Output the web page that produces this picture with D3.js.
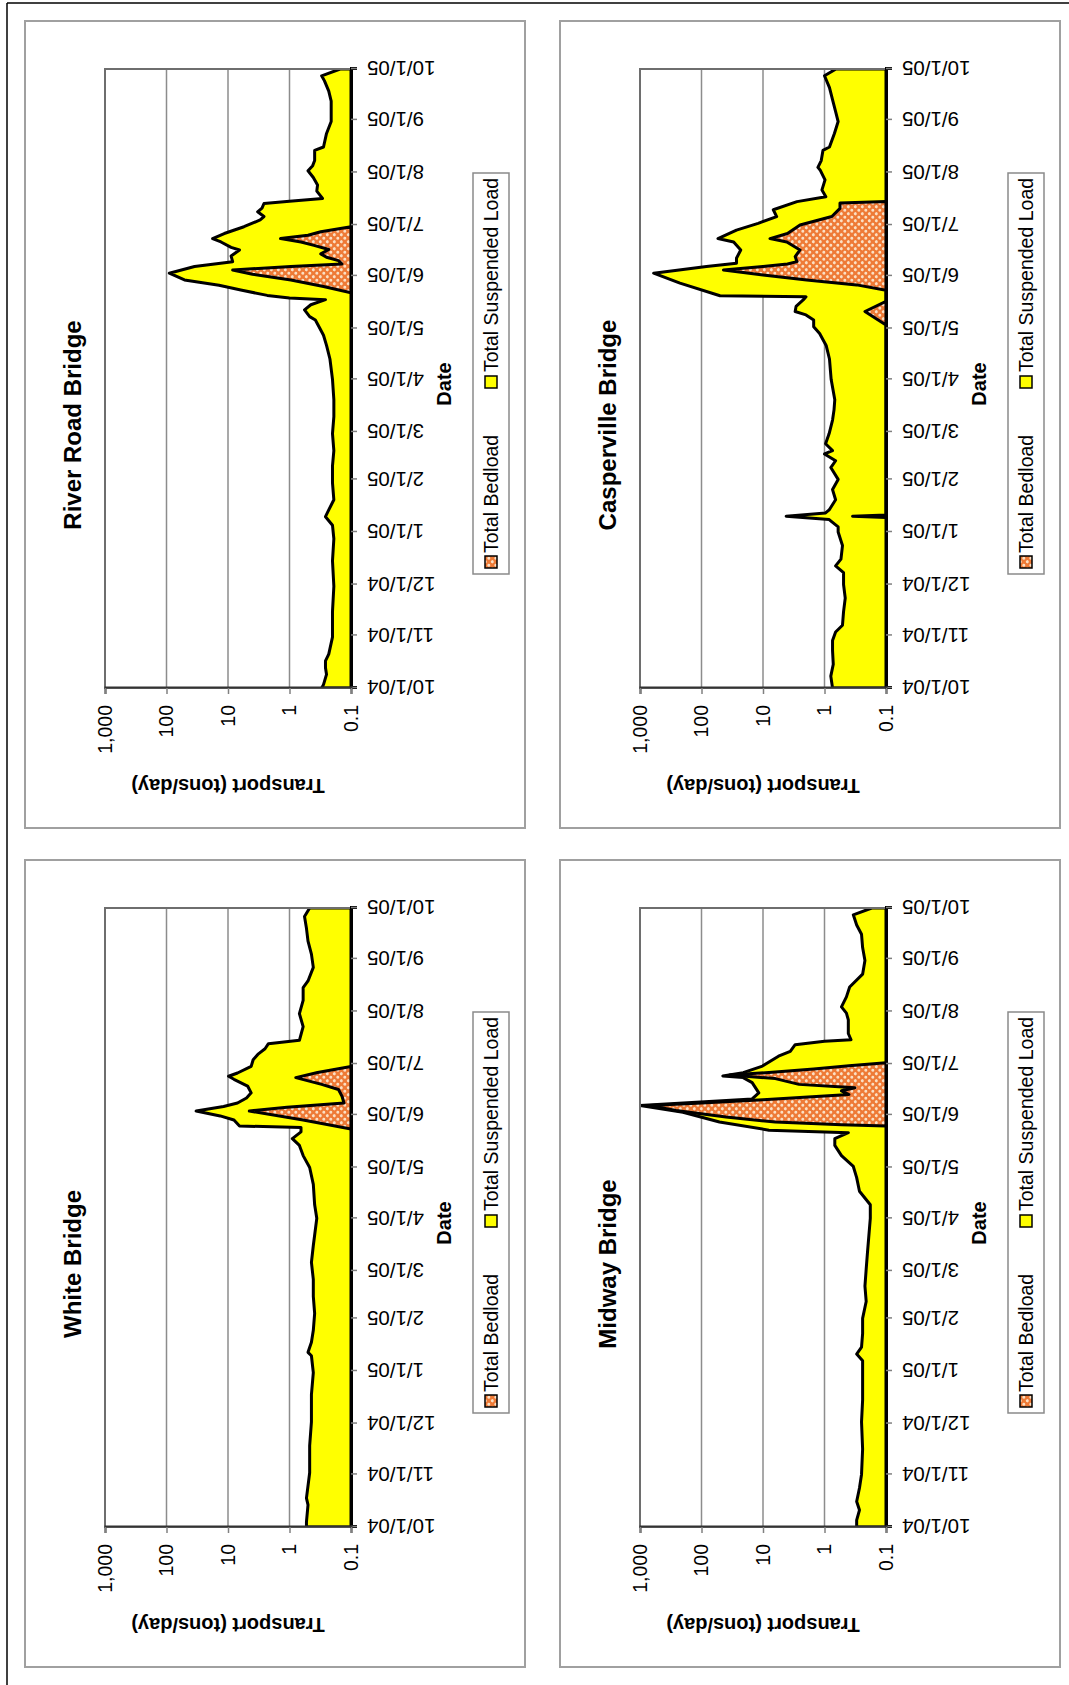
<!DOCTYPE html>
<html>
<head>
<meta charset="utf-8">
<script src="https://cdn.jsdelivr.net/npm/d3@7"></script>
<style>
  body { margin: 0; background: #fff; }
  svg { display: block; font-family: "Liberation Sans", Arial, sans-serif; }
</style>
</head>
<body>
<div class="chart"></div>
<script>
const width = 1069;
const height = 1685;

// time axis runs from 10/1/04 to 10/1/05, values are [days after 10/1/04, tons/day]
const startDate = new Date(2004, 9, 1);
const endDate = new Date(2005, 9, 1);
const yTicks = [0.1, 1, 10, 100, 1000];
const seriesNames = ["Total Bedload", "Total Suspended Load"];
const bridgeNames = ["River Road Bridge", "Casperville Bridge", "White Bridge", "Midway Bridge"];

const riverRoadSuspended = [
  [0,0.30],[2,0.28],[8,0.25],[12,0.26],[16,0.26],[20,0.23],[30,0.20],[45,0.20],[60,0.19],[75,0.20],
  [88,0.19],[96,0.20],[101,0.26],[105,0.23],[111,0.19],[121,0.20],[131,0.20],[140,0.19],[150,0.20],
  [160,0.19],[170,0.19],[182,0.20],[194,0.22],[202,0.25],[208,0.28],[212,0.32],[217,0.38],[219,0.47],
  [223,0.57],[226,0.45],[229,0.26],[230,1.0],[231.5,2.3],[234.7,6.2],[237.5,14],[240.6,51],[244.6,90],
  [248.5,35],[251.4,8.4],[254.7,8.9],[258.3,6.5],[259.8,8.9],[263,13],[265,17.8],[268,11.5],[272,5.5],
  [276,3.0],[278,2.6],[280.8,3.3],[283,2.8],[285.7,2.6],[287,1.0],[288.7,0.29],[293,0.36],[296.6,0.35],
  [301,0.41],[305,0.5],[308,0.42],[311,0.39],[317,0.39],[319,0.28],[327,0.25],[334,0.21],[340,0.21],
  [346,0.21],[352,0.23],[358,0.27],[361,0.30],[365,0.15]
];
const riverRoadBedload = [
  [233,0.1],[236.7,0.28],[240.6,0.95],[244,4],[246.5,8.4],[248.6,0.95],[250,0.14],[252,0.16],
  [254,0.25],[256,0.31],[258.6,0.23],[261,0.4],[263,0.65],[265,1.4],[267,0.5],[269,0.31],[272,0.1]
];

const caspervilleSuspended = [
  [0,0.74],[7,0.79],[14,0.72],[22,0.74],[28,0.74],[33,0.66],[37,0.51],[45,0.49],[53,0.46],[61,0.49],
  [68,0.49],[72,0.66],[76,0.54],[84,0.51],[92,0.6],[95,0.6],[99.3,0.84],[101.3,4.2],[103.2,0.96],
  [105,0.84],[111,0.66],[117,0.74],[123,0.6],[130,0.79],[134,0.66],[138,1.0],[140,0.74],[144,0.96],
  [150,0.84],[158,0.74],[164,0.7],[170,0.68],[182,0.78],[194,0.83],[202,0.94],[209,1.2],[213,1.5],
  [217,1.5],[220,2.0],[222,3.0],[225,2.9],[229,2.2],[230.7,2.0],[231.3,50],[238.7,224],[244.6,600],
  [248.5,83],[250.4,27],[253.4,27],[258.3,23],[263,30],[265,54],[270,27],[274,12],[278,6],[282,6.8],
  [286.8,2.8],[289.7,0.95],[293.7,1.1],[299.6,0.98],[305.5,1.18],[307,1.28],[311,1.13],[317,1.06],
  [319,0.83],[327,0.69],[334,0.6],[339,0.65],[346,0.73],[354,0.83],[361,1.0],[365,0.65]
];
const caspervilleBedload = [
  [100.5,0.1],[101.3,0.35],[102,0.1],[214,0.1],[222,0.22],[228,0.1],[234.5,0.1],[237.7,0.3],
  [240.6,1.95],[243.5,10],[246.5,44],[248.5,10],[250,4],[251.4,2.8],[254.4,3.0],[258.3,2.5],
  [263,4.1],[265,7.7],[268,4],[273,2.5],[278,0.76],[282.8,0.56],[286,0.56],[286.8,0.1]
];

const whiteSuspended = [
  [0,0.53],[3,0.53],[13,0.5],[17,0.53],[32,0.47],[48,0.47],[62,0.44],[78,0.44],[91,0.41],[101,0.44],
  [103,0.5],[109,0.44],[116,0.41],[126,0.39],[136,0.41],[146,0.41],[156,0.44],[166,0.41],[182,0.36],
  [190,0.39],[202,0.41],[212,0.47],[219,0.6],[225,0.69],[229,0.9],[233,0.65],[235.5,0.65],[236.5,6.5],
  [240,8],[242.4,13.4],[245.3,33],[248,11.8],[250,7.0],[253,5],[256,4.2],[260,4.8],[264,8],[265.8,9.8],
  [267.7,7.0],[271.6,4.2],[275.5,3.9],[279,3.2],[282,2.5],[285,2.2],[287,0.69],[295,0.6],[302.7,0.69],
  [310.5,0.6],[318,0.6],[322,0.5],[330,0.41],[337.8,0.44],[345.5,0.5],[353,0.53],[360,0.57],[365,0.47]
];
const whiteBedload = [
  [234.6,0.1],[240,0.6],[245.3,4.5],[247.5,1.1],[250,0.13],[254,0.14],[258,0.16],[261,0.3],
  [265,0.79],[268,0.35],[271.6,0.1]
];

const midwaySuspended = [
  [0,0.3],[4,0.3],[10,0.27],[15,0.3],[23,0.27],[31,0.25],[46,0.24],[62,0.25],[75,0.24],[88,0.24],
  [98,0.24],[102,0.3],[106,0.25],[114,0.24],[123,0.24],[133,0.21],[142,0.22],[152,0.21],[162,0.2],
  [182,0.18],[190,0.18],[198,0.27],[206,0.3],[212.6,0.34],[219,0.53],[225,0.68],[229,0.68],[232.5,0.41],
  [234,8],[238.8,51],[244.6,200],[248.5,1000],[252.4,15],[256,11.7],[262,15],[265,21],[266,45],
  [267.9,21],[271.8,10.2],[277.6,5.6],[280.5,3.6],[284.4,3.0],[286.4,1.0],[287.3,0.37],[291,0.41],
  [299,0.41],[303,0.44],[306.7,0.53],[312.6,0.44],[318.4,0.39],[326,0.24],[334,0.22],[341.7,0.24],
  [349.5,0.25],[355,0.3],[361,0.34],[365,0.17]
];
const midwayBedload = [
  [236.4,0.1],[237.2,0.53],[238.8,6.3],[241.7,40],[245.6,260],[248.5,700],[250,100],[252,10],
  [255,0.4],[257.2,0.53],[259,0.32],[261,2.6],[264.4,6.3],[266.5,35],[268,8],[270,1.5],[272,0.4],[273.7,0.1]
];

const panels = [
  {title: bridgeNames[0], suspended: riverRoadSuspended, bedload: riverRoadBedload},
  {title: bridgeNames[1], suspended: caspervilleSuspended, bedload: caspervilleBedload},
  {title: bridgeNames[2], suspended: whiteSuspended, bedload: whiteBedload},
  {title: bridgeNames[3], suspended: midwaySuspended, bedload: midwayBedload}
];

const toPoints = arr => arr.map(([d, v]) => ({date: new Date(startDate.getTime() + d * 864e5), value: v}));

const svg = d3.select(".chart")
    .append("svg")
    .attr("width", width)
    .attr("height", height)
    .attr("viewBox", [0, 0, width, height]);

const defs = svg.append("defs");
const pat = defs.append("pattern")
    .attr("id", "bedloadPattern")
    .attr("patternUnits", "userSpaceOnUse")
    .attr("width", 7)
    .attr("height", 7);
pat.append("rect").attr("width", 7).attr("height", 7).attr("fill", "#ee7a36");
pat.append("circle").attr("cx", 1.75).attr("cy", 1.75).attr("r", 1.5).attr("fill", "#fbe0c4");
pat.append("circle").attr("cx", 5.25).attr("cy", 5.25).attr("r", 1.5).attr("fill", "#fbe0c4");

// outer frame (only top and left visible in the scan)
svg.append("line").attr("x1", 7).attr("y1", 3).attr("x2", width).attr("y2", 3)
    .attr("stroke", "#000").attr("stroke-width", 1.5);
svg.append("line").attr("x1", 7).attr("y1", 3).attr("x2", 7).attr("y2", height)
    .attr("stroke", "#000").attr("stroke-width", 1.5);

// each panel is drawn as an upright Excel chart, then turned 90 degrees counter-clockwise
const panelW = 807;   // local width (screen height)
const panelH = 500;   // local height (screen width)
const margin = {top: 80, right: 48, bottom: 174, left: 140};
const plotW = panelW - margin.left - margin.right;
const plotH = panelH - margin.top - margin.bottom;

const x = d3.scaleTime().domain([startDate, endDate]).range([0, plotW]);
const y = d3.scaleLog().domain([0.1, 1000]).range([plotH, 0]);

const area = d3.area()
    .x(d => x(d.date))
    .y0(y(0.1))
    .y1(d => y(Math.max(0.1, d.value)));

panels.forEach((p, i) => {
    const col = i % 2, row = Math.floor(i / 2);
    const px = 25 + col * 535;
    const py = 21 + row * 839;

    const g = svg.append("g")
        .attr("transform", `translate(${px},${py + panelW}) rotate(-90)`);

    // chart area border
    g.append("rect")
        .attr("x", 0).attr("y", 0)
        .attr("width", panelW).attr("height", panelH)
        .attr("fill", "#fff")
        .attr("stroke", "#a0a0a0")
        .attr("stroke-width", 2);

    g.append("text")
        .attr("x", 403).attr("y", 56)
        .attr("text-anchor", "middle")
        .attr("font-size", 24)
        .attr("font-weight", "bold")
        .text(p.title);

    const plot = g.append("g")
        .attr("transform", `translate(${margin.left},${margin.top})`);

    plot.append("clipPath").attr("id", "clip" + i)
        .append("rect").attr("width", plotW).attr("height", plotH);

    plot.append("rect")
        .attr("width", plotW).attr("height", plotH)
        .attr("fill", "#fff");

    plot.append("g")
        .selectAll("line")
        .data(yTicks.slice(1, -1))
        .join("line")
        .attr("x1", 0).attr("x2", plotW)
        .attr("y1", d => y(d)).attr("y2", d => y(d))
        .attr("stroke", "#8c8c8c")
        .attr("stroke-width", 1.5);

    const marks = plot.append("g").attr("clip-path", `url(#clip${i})`);

    marks.append("path")
        .datum(toPoints(p.suspended))
        .attr("d", area)
        .attr("fill", "#ffff00")
        .attr("stroke", "#000")
        .attr("stroke-width", 3)
        .attr("stroke-linejoin", "round");

    marks.append("path")
        .datum(toPoints(p.bedload))
        .attr("d", area)
        .attr("fill", "url(#bedloadPattern)")
        .attr("stroke", "#000")
        .attr("stroke-width", 3)
        .attr("stroke-linejoin", "round");

    // plot area border
    plot.append("rect")
        .attr("width", plotW).attr("height", plotH)
        .attr("fill", "none")
        .attr("stroke", "#6e6e6e")
        .attr("stroke-width", 2);

    const xAxis = plot.append("g")
        .attr("transform", `translate(0,${plotH})`)
        .call(d3.axisBottom(x)
            .ticks(d3.timeMonth.every(1))
            .tickFormat(d3.timeFormat("%-m/%-d/%y"))
            .tickSize(6));
    xAxis.select(".domain").attr("stroke", "#000").attr("stroke-width", 3);
    xAxis.selectAll(".tick line").attr("stroke", "#808080").attr("stroke-width", 1.5);
    xAxis.selectAll("text")
        .attr("transform", "rotate(-90)")
        .attr("text-anchor", "end")
        .attr("x", -16)
        .attr("y", 0)
        .attr("dy", "0.35em")
        .attr("font-size", 20.5)
        .attr("font-family", "Liberation Sans, Arial, sans-serif")
        .attr("fill", "#000");

    const yAxis = plot.append("g")
        .call(d3.axisLeft(y)
            .tickValues(yTicks)
            .tickFormat(d3.format(","))
            .tickSize(6)
            .tickPadding(11));
    yAxis.select(".domain").attr("stroke", "#333").attr("stroke-width", 2);
    yAxis.selectAll(".tick line").attr("stroke", "#808080").attr("stroke-width", 1.5);
    yAxis.selectAll("text")
        .attr("font-size", 19.5)
        .attr("font-family", "Liberation Sans, Arial, sans-serif")
        .attr("fill", "#000");

    g.append("text")
        .attr("transform", `translate(42,${margin.top + plotH / 2}) rotate(-90)`)
        .attr("text-anchor", "middle")
        .attr("dy", "0.35em")
        .attr("font-size", 20)
        .attr("font-weight", "bold")
        .text("Transport (tons/day)");

    g.append("text")
        .attr("x", 444).attr("y", 419)
        .attr("dy", "0.35em")
        .attr("text-anchor", "middle")
        .attr("font-size", 20)
        .attr("font-weight", "bold")
        .text("Date");

    // legend
    const legend = g.append("g").attr("transform", "translate(254,448)");
    legend.append("rect")
        .attr("width", 401).attr("height", 36)
        .attr("fill", "#fff")
        .attr("stroke", "#8a8a8a")
        .attr("stroke-width", 1.5);
    const items = [
        {name: seriesNames[0], fill: "url(#bedloadPattern)", sx: 6, tx: 21},
        {name: seriesNames[1], fill: "#ffff00", sx: 186, tx: 202}
    ];
    items.forEach(it => {
        legend.append("rect")
            .attr("x", it.sx).attr("y", 12)
            .attr("width", 12).attr("height", 12)
            .attr("fill", it.fill)
            .attr("stroke", "#000")
            .attr("stroke-width", 1.5);
        legend.append("text")
            .attr("x", it.tx).attr("y", 18)
            .attr("dy", "0.35em")
            .attr("font-size", 19.5)
            .text(it.name);
    });
});
</script>
</body>
</html>
